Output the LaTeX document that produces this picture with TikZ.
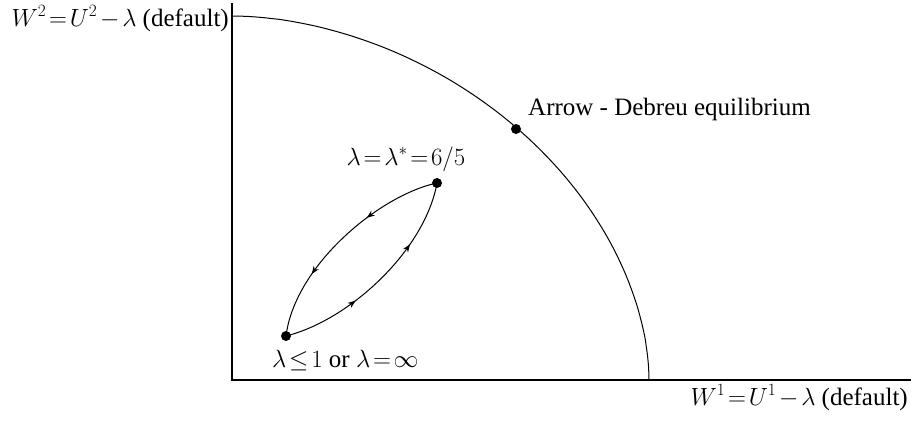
\documentclass[tikz,border=0pt]{standalone}
\usepackage{fontspec,amsmath}
\setmainfont{Liberation Serif}
\usetikzlibrary{arrows.meta,positioning,decorations.markings}
\thickmuskip=2mu
\medmuskip=2mu

\begin{document}
\begin{tikzpicture}[x=1pt, y=-1pt, >=Stealth, font={\fontsize{25}{29}\selectfont},
    axis/.style={line width=1.3pt},
    curve/.style={line width=1pt},
    dot/.style={circle, fill, inner sep=0pt, minimum size=10pt},
    flow/.style={line width=1pt, postaction={decorate},
      decoration={markings,
        mark=at position 0.35 with {\arrow{Stealth[length=8pt,width=6pt]}},
        mark=at position 0.7 with {\arrow{Stealth[length=8pt,width=6pt]}}}}]
  \useasboundingbox (0,0) rectangle (913,424);

  % axes
  \coordinate (o) at (232,380);
  \coordinate (ytop) at (232,3);
  \coordinate (xend) at (911,380);
  \draw[axis] (ytop) -- (o) -- (xend);
  \node[anchor=base east, inner sep=0pt] (ylab) at (229,26) {$W^2 = U^2 - \lambda$ (default)};
  \node[anchor=base east, inner sep=0pt] (xlab) at (908,405) {$W^1 = U^1 - \lambda$ (default)};

  % utility possibility frontier
  \coordinate (fx) at (649,380);
  \coordinate (fy) at (232,16);
  \draw[curve] (fx) -- plot[domain=0.5:89.5, samples=90, smooth]
    ({232+417*cos(\x)^1.081}, {380-364*sin(\x)^1.081}) -- (fy);
  \node[dot] (ad) at (516,129) {};
  \node[anchor=base west, inner sep=0pt] (adlab) at (528,115) {Arrow - Debreu equilibrium};

  % the cycle between the two rest points
  \node[dot] (hi) at (437,183) {};
  \node[dot] (lo) at (286,336) {};
  \node[anchor=base, inner sep=0pt] (hilab) at (406,165) {$\lambda = \lambda^{*} = 6/5$};
  \node[anchor=base west, inner sep=0pt] (lolab) at (272,367) {$\lambda \le 1$ or $\lambda = \infty$};
  \draw[flow] (hi.center) .. controls (380,195) and (295,265) .. (lo.center);
  \draw[flow] (lo.center) .. controls (350,320) and (425,250) .. (hi.center);
\end{tikzpicture}
\end{document}
